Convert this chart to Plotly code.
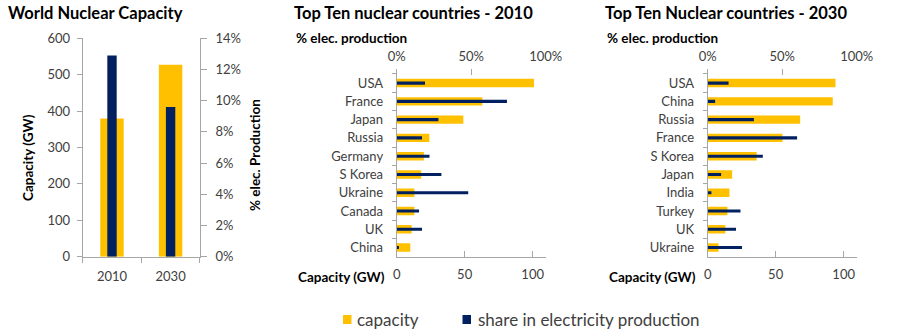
import plotly.graph_objects as go

# ---- data ----
world_years = ["2010", "2030"]
world_capacity_gw = [380, 527]
world_share_pct = [12.9, 9.6]

countries_2010 = ["USA", "France", "Japan", "Russia", "Germany",
                  "S Korea", "Ukraine", "Canada", "UK", "China"]
capacity_2010_gw = [101, 63, 49, 24, 20, 18, 13, 13, 11, 10]
share_2010_pct = [19, 74, 28, 17, 22, 30, 48, 15, 17, 1.5]

countries_2030 = ["USA", "China", "Russia", "France", "S Korea",
                  "Japan", "India", "Turkey", "UK", "Ukraine"]
capacity_2030_gw = [94, 92, 68, 55, 36, 18, 16, 14.5, 13, 8]
share_2030_pct = [14, 5, 31, 60, 37, 9, 2.5, 22, 19, 23]

series_names = ["capacity", "share in electricity production"]

# ---- style ----
W, H = 899, 331
YELLOW = "#FFC000"
NAVY = "#002060"
AXIS = "#A6A6A6"
TICK_TXT = "#404040"
FONT = "Lato"


def px_x(x):
    return x / W


def px_y(y):
    return 1 - y / H


fig = go.Figure()

# World panel: capacity (left axis) and share (right axis)
fig.add_trace(go.Bar(x=world_years, y=world_capacity_gw, width=0.4,
                     marker=dict(color=YELLOW, line_width=0),
                     name=series_names[0], xaxis="x", yaxis="y"))
fig.add_trace(go.Bar(x=world_years, y=world_share_pct, width=0.16,
                     marker=dict(color=NAVY, line_width=0),
                     name=series_names[1], xaxis="x", yaxis="y2"))

# Country panels: capacity on bottom axis, share on top axis
for cats, cap, share, xb, xt, ya in [
    (countries_2010, capacity_2010_gw, share_2010_pct, "x2", "x3", "y3"),
    (countries_2030, capacity_2030_gw, share_2030_pct, "x4", "x5", "y4"),
]:
    fig.add_trace(go.Bar(y=cats, x=cap, orientation="h", width=0.46,
                         marker=dict(color=YELLOW, line_width=0),
                         name=series_names[0], xaxis=xb, yaxis=ya))
    fig.add_trace(go.Bar(y=cats, x=share, orientation="h", width=0.17,
                         marker=dict(color=NAVY, line_width=0),
                         name=series_names[1], xaxis=xt, yaxis=ya))

tickfont = dict(family=FONT, size=13, color=TICK_TXT)
plot_bottom = px_y(256.7)

common_line = dict(showline=True, linecolor=AXIS, linewidth=1, showgrid=False,
                   zeroline=False, tickcolor=AXIS, tickfont=tickfont,
                   fixedrange=True, automargin=False)

layout = dict(
    width=W, height=H,
    margin=dict(l=0, r=0, t=0, b=0, pad=0, autoexpand=False),
    paper_bgcolor="white", plot_bgcolor="rgba(0,0,0,0)",
    barmode="overlay", showlegend=False,
    font=dict(family=FONT, color="black"),
    # world panel
    xaxis=dict(domain=[px_x(82.7), px_x(199.9)], anchor="y", type="category",
               tickson="boundaries", ticks="outside", ticklen=5,
               ticklabelstandoff=8, **common_line),
    yaxis=dict(domain=[plot_bottom, px_y(38.3)], anchor="x", range=[0, 600],
               dtick=100, ticks="outside", ticklen=5, ticklabelstandoff=4,
               **common_line),
    yaxis2=dict(overlaying="y", side="right", anchor="x", range=[0, 14], dtick=2,
                ticksuffix="%", ticks="outside", ticklen=6, ticklabelstandoff=6,
                **common_line),
)

for xb, xt, ya, x0, x1 in [("xaxis2", "xaxis3", "yaxis3", 396.7, 545.7),
                           ("xaxis4", "xaxis5", "yaxis4", 707.7, 856.7)]:
    yname = "y" + ya[5:]
    xbname = "x" + xb[5:]
    layout[xb] = dict(domain=[px_x(x0), px_x(x1)], anchor=yname, range=[0, 109.6],
                      tick0=0, dtick=50, ticks="inside", ticklen=6,
                      ticklabelstandoff=6, **common_line)
    layout[xt] = dict(overlaying=xbname, anchor=yname, side="top", range=[0, 100],
                      tick0=0, dtick=50, ticksuffix="%", ticks="inside", ticklen=6,
                      showline=False, showgrid=False, zeroline=False, tickcolor=AXIS,
                      tickfont=tickfont, ticklabelstandoff=4, fixedrange=True,
                      automargin=False)
    layout[ya] = dict(domain=[plot_bottom, px_y(69)], anchor=xbname, type="category",
                      range=[9.5, -0.77], tickson="boundaries", ticks="outside",
                      ticklen=4, ticklabelstandoff=10, **common_line)

fig.update_layout(**layout)


# titles and axis captions
def note(text, x, y, size, bold=True, angle=0, xanchor="left", color="black"):
    fig.add_annotation(text=f"<b>{text}</b>" if bold else text,
                       x=px_x(x), y=px_y(y), xref="paper", yref="paper",
                       xanchor=xanchor, yanchor="middle", showarrow=False,
                       textangle=angle, font=dict(family=FONT, size=size, color=color))


note("World Nuclear Capacity", 6, 13, 16.5)
note("Top Ten nuclear countries - 2010", 292, 13, 16.5)
note("Top Ten Nuclear countries - 2030", 603, 13, 16.5)
note("% elec. production", 294, 38, 13.5)
note("% elec. production", 605, 38, 13.5)
note("Capacity (GW)", 296, 277, 13.5)
note("Capacity (GW)", 607, 277, 13.5)
note("Capacity (GW)", 28, 158, 13.5, angle=-90, xanchor="center")
note("% elec. Production", 255, 155, 13.5, angle=-90, xanchor="center")

# key for the two series along the bottom
for (sx, tx), colour, label in zip([(343, 355), (462.5, 476)], [YELLOW, NAVY], series_names):
    fig.add_shape(type="rect", xref="paper", yref="paper",
                  x0=px_x(sx), x1=px_x(sx + 8.5), y0=px_y(324), y1=px_y(315),
                  fillcolor=colour, line_width=0)
    note(label, tx, 319, 17, bold=False, color=TICK_TXT)

fig.write_html("out.html")
